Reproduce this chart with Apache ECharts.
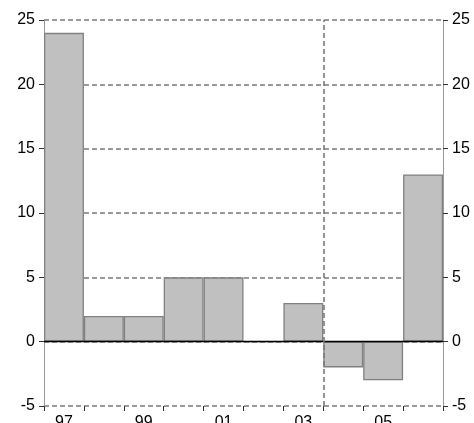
<!DOCTYPE html>
<html><head><meta charset="utf-8">
<script src="https://cdn.jsdelivr.net/npm/echarts@6/dist/echarts.min.js"></script>
<style>html,body{margin:0;padding:0;background:#fff}#c{width:474px;height:423px}</style>
</head><body><div id="c"></div>
<script>
const categories = ['97','98','99','00','01','02','03','04','05','06'];
const values = [24, 2, 2, 5, 5, 0, 3, -2, -3, 13];
const yMin = -5, yMax = 25, yStep = 5;
const dividerAfterIndex = 7; // boundary between '03' and '04'

const chart = echarts.init(document.getElementById('c'));
const font = {fontFamily: 'Liberation Sans, Arial, sans-serif', fontSize: 16, color: '#000'};
const grayLine = '#7a7a7a';
chart.setOption({
  animation: false,
  grid: {left: 44, right: 31, top: 20, bottom: 17, containLabel: false, outerBoundsMode: 'none'},
  xAxis: [{
    type: 'category', data: categories, position: 'bottom',
    axisLine: {show: false, onZero: false},
    axisTick: {show: true, interval: 0, length: 5, lineStyle: {color: '#333'}},
    axisLabel: {interval: 1, margin: 9, ...font}
  }, {
    type: 'value', min: 0, max: categories.length, show: false
  }],
  yAxis: [{
    type: 'value', min: yMin, max: yMax, interval: yStep, position: 'left',
    axisLine: {show: true, lineStyle: {color: '#999'}},
    axisTick: {show: true, length: 5, lineStyle: {color: '#333'}},
    axisLabel: {margin: 9, ...font},
    splitLine: {show: true, lineStyle: {color: grayLine, type: [5, 3], width: 1.6}}
  }, {
    type: 'value', min: yMin, max: yMax, interval: yStep, position: 'right',
    axisLine: {show: true, lineStyle: {color: '#999'}},
    axisTick: {show: true, length: 5, lineStyle: {color: '#333'}},
    axisLabel: {margin: 9, ...font},
    splitLine: {show: false}
  }],
  series: [{
    type: 'bar', data: values, barCategoryGap: 0,
    itemStyle: {color: '#c0c0c0', borderColor: '#808080', borderWidth: 1.3},
    markLine: {
      silent: true, symbol: 'none', label: {show: false},
      lineStyle: {color: '#000', type: 'solid', width: 1.3},
      data: [{yAxis: 0}]
    }
  }, {
    type: 'line', xAxisIndex: 1, yAxisIndex: 0, data: [],
    markLine: {
      silent: true, symbol: 'none', label: {show: false},
      lineStyle: {color: grayLine, type: [5, 3], width: 1.6},
      data: [{xAxis: dividerAfterIndex}]
    }
  }]
});
</script></body></html>
